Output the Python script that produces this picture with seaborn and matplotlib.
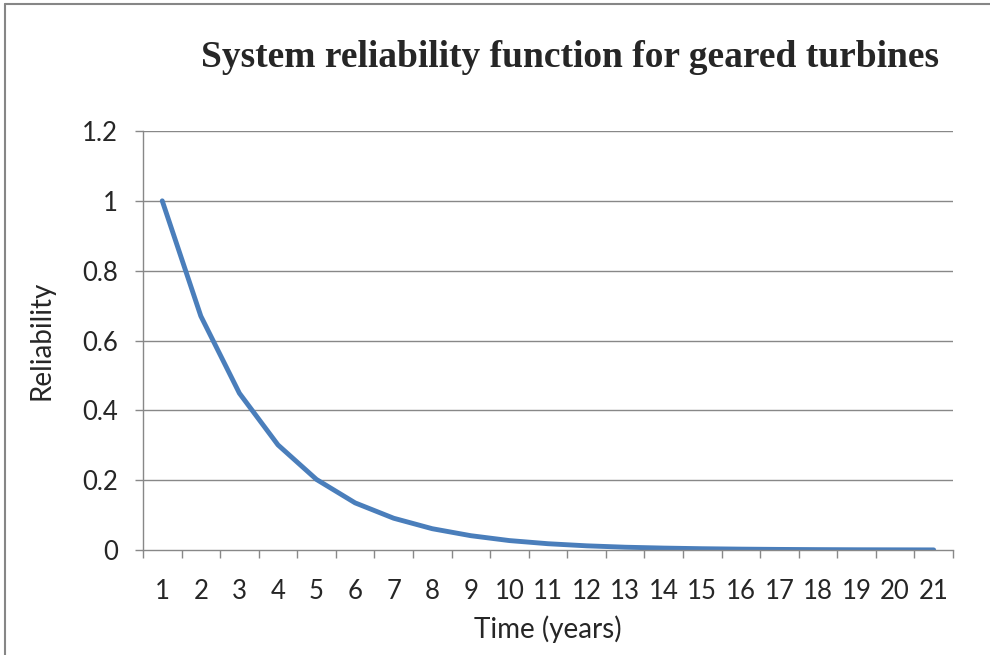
import matplotlib
matplotlib.use("Agg")
import matplotlib.pyplot as plt
import seaborn as sns
import pandas as pd
from matplotlib.lines import Line2D

# values
years = list(range(1, 22))
reliability = [1.0, 0.670, 0.449, 0.301, 0.202, 0.135, 0.091, 0.061, 0.041,
               0.027, 0.018, 0.012, 0.008, 0.0055, 0.0037, 0.0025, 0.0017,
               0.0011, 0.0007, 0.0005, 0.0003]
y_ticks = [0, 0.2, 0.4, 0.6, 0.8, 1.0, 1.2]
y_labels = ["0", "0.2", "0.4", "0.6", "0.8", "1", "1.2"]

df = pd.DataFrame({"Time": years, "Reliability": reliability})

sns.set_style("white")
plt.rcParams["font.family"] = ["Lato", "DejaVu Sans"]

fig = plt.figure(figsize=(9.9, 6.55), dpi=100)
ax = fig.add_axes([0.1444, 0.1603, 0.8182, 0.6397])

sns.lineplot(data=df, x="Time", y="Reliability", color="#4A7EBB",
             linewidth=3.5, ax=ax)

grid_c = "#888888"
ax.set_xlim(0.5, 21.5)
ax.set_ylim(0, 1.2)
ax.set_yticks(y_ticks)
ax.set_yticklabels(y_labels, fontsize=18.5)
for v in y_ticks[1:]:
    ax.axhline(v, color=grid_c, linewidth=1.0, zorder=0)

ax.set_xticks(years)
ax.set_xticklabels([str(y) for y in years], fontsize=18.5)
ax.set_xticks([y - 0.5 for y in years] + [21.5], minor=True)
ax.tick_params(axis="x", which="major", length=0, pad=21)
ax.tick_params(axis="x", which="minor", bottom=True, length=6, color=grid_c,
               width=1, direction="out")
ax.tick_params(axis="y", left=True, length=6, color=grid_c, width=1,
               direction="out", pad=12)

for s in ["top", "right"]:
    ax.spines[s].set_visible(False)
for s in ["left", "bottom"]:
    ax.spines[s].set_color(grid_c)
    ax.spines[s].set_linewidth(1.0)

ax.set_xlabel("Time (years)", fontsize=20, labelpad=8)
ax.set_ylabel("Reliability", fontsize=20, labelpad=20)

fig.text(0.576, 0.912, "System reliability function for geared turbines",
         ha="center", va="center", fontsize=27, fontweight="bold",
         family=["Liberation Serif", "DejaVu Serif"])

# chart frame (only top and left edges visible in the reference crop)
fig.lines.append(Line2D([0.005, 1.0], [0.994, 0.994], transform=fig.transFigure,
                        color="#868686", linewidth=1.5))
fig.lines.append(Line2D([0.005, 0.005], [0.0, 0.994], transform=fig.transFigure,
                        color="#868686", linewidth=1.5))

fig.savefig("out.png", dpi=100)
